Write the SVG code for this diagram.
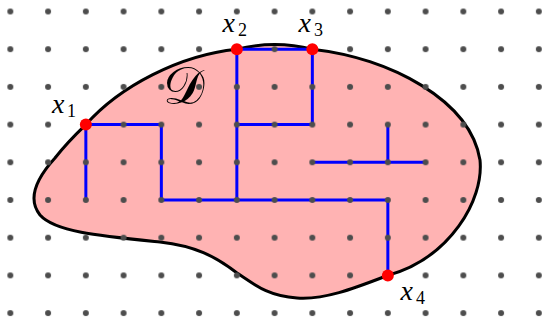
<svg xmlns="http://www.w3.org/2000/svg" width="544" height="324" viewBox="0 0 544 324">
<defs>
<style>
.region{fill:#ffb3b3;stroke:#000;stroke-width:3;stroke-linejoin:round}
.edge{fill:none;stroke:#0000ff;stroke-width:3;stroke-linecap:butt;stroke-linejoin:miter}
.pt{fill:#ff0000}
.lx{font-family:'Liberation Serif','Times New Roman',serif;font-style:italic;font-size:28px;fill:#000}
.ls{font-family:'Liberation Serif','Times New Roman',serif;font-style:normal;font-size:18px;fill:#000}
</style>
<pattern id="dots" patternUnits="userSpaceOnUse" x="-8.525" y="-7.35" width="37.75" height="37.7">
<circle cx="18.875" cy="18.85" r="3" fill="#4d4d4d"/>
</pattern>
</defs>
<rect width="544" height="324" fill="#fff"/>
<g id="region">
<path class="region" d="M85.85,124.6 C120,86 180,55 236.85,49.2 C262,43 288,43 312.35,49.2 C390,58 470,100 480,160 C484,200 450,258 387.85,275.4 C355,288 325,300 297,298 C268,296 255,285 237,273 C215,256 195,246 160,242 C100,236 55,232 40,215 C28,200 35,180 55,158 C65,145 75,135 85.85,124.6 Z"/>
<text x="184" y="104" text-anchor="middle" font-family="'DejaVu Serif','Noto Sans','DejaVu Sans',serif" font-size="52" fill="#000">𝒟</text>
</g>
<g id="connectors">
<path class="edge" d="M85.85,124.6 H161.35 V200 H387.85 V275.4"/>
<path class="edge" d="M85.85,124.6 V200"/>
<path class="edge" d="M236.85,49.2 H312.35 V124.6 H236.85"/>
<path class="edge" d="M236.85,49.2 V200"/>
<path class="edge" d="M312.35,162.3 H425.6"/>
<path class="edge" d="M387.85,124.6 V162.3"/>
</g>
<rect id="grid" width="544" height="324" fill="url(#dots)"/>
<g id="x1">
<circle class="pt" cx="85.85" cy="124.6" r="6"/>
<text class="lx" x="52" y="113">x</text>
<text class="ls" x="67" y="117">1</text>
</g>
<g id="x2">
<circle class="pt" cx="236.85" cy="49.2" r="6"/>
<text class="lx" x="222.5" y="32">x</text>
<text class="ls" x="238" y="36">2</text>
</g>
<g id="x3">
<circle class="pt" cx="312.35" cy="49.2" r="6"/>
<text class="lx" x="298.5" y="32">x</text>
<text class="ls" x="314" y="36">3</text>
</g>
<g id="x4">
<circle class="pt" cx="387.85" cy="275.4" r="6"/>
<text class="lx" x="400.5" y="300">x</text>
<text class="ls" x="416" y="304">4</text>
</g>
</svg>
